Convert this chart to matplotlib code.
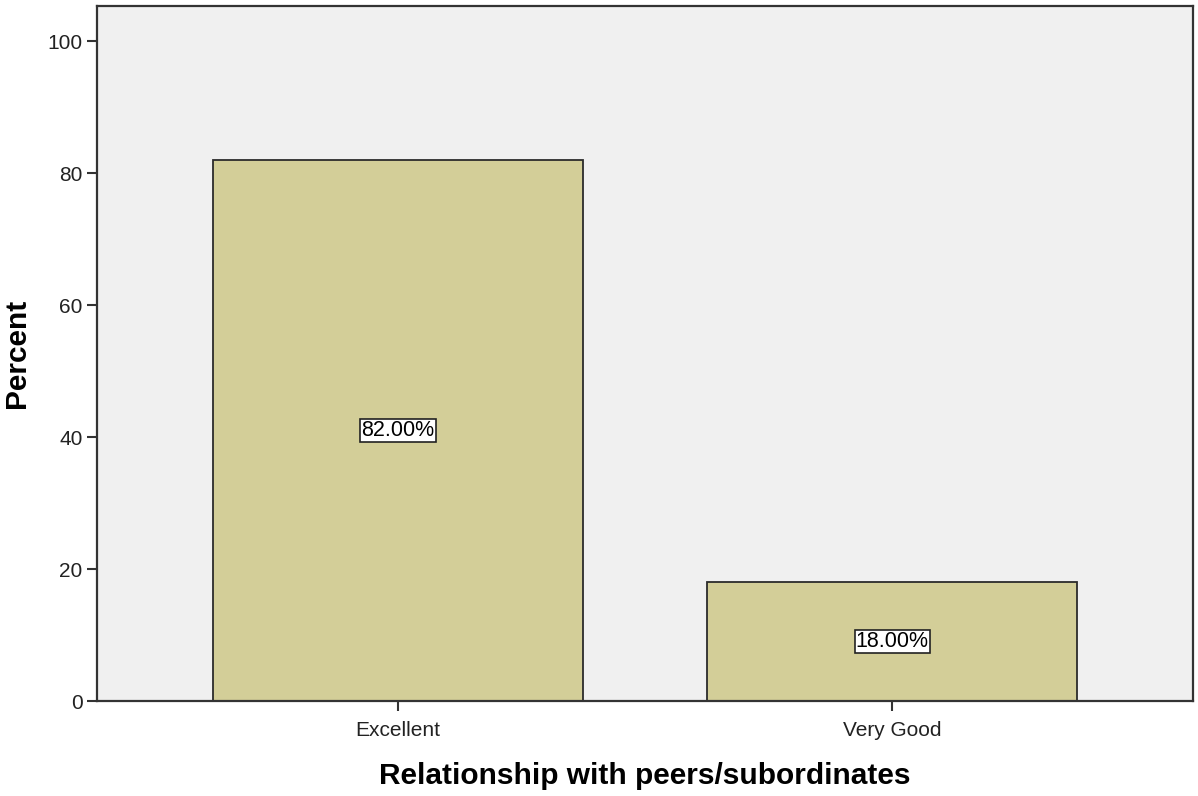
import numpy as np
import matplotlib.pyplot as plt

categories = ['Excellent', 'Very Good']
percent = [82.0, 18.0]
labels = ['82.00%', '18.00%']

plt.rcParams['font.family'] = ['Liberation Sans', 'DejaVu Sans']

fig = plt.figure(figsize=(11.98, 7.96), dpi=100)
ax = fig.add_axes([0.081, 0.119, 0.915, 0.873])
ax.set_facecolor('#f0f0f0')

x = np.arange(len(categories))
ax.bar(x, percent, width=0.749, color='#d3ce98', edgecolor='#2b2b2b', linewidth=1.3, zorder=2)

for xi, v, lab in zip(x, percent, labels):
    ax.text(xi, v / 2, lab, ha='center', va='center', fontsize=15.5, zorder=3,
            bbox=dict(boxstyle='square,pad=0.05', facecolor='white', edgecolor='#222222', linewidth=1.2))

ax.set_xlim(-0.609, 1.609)
ax.set_ylim(0, 105.3)
ax.set_yticks([0, 20, 40, 60, 80, 100])
ax.set_xticks(x)
ax.set_xticklabels(categories)
ax.tick_params(axis='both', labelsize=15, length=7, width=1.5, color='#333333', labelcolor='#222222')
ax.tick_params(axis='x', pad=7)
for s in ax.spines.values():
    s.set_linewidth(1.6)
    s.set_color('#333333')

ax.set_ylabel('Percent', fontsize=21.5, fontweight='bold', labelpad=12)
ax.set_xlabel('Relationship with peers/subordinates', fontsize=21.5, fontweight='bold', labelpad=16)

plt.savefig('out.png', dpi=100)
